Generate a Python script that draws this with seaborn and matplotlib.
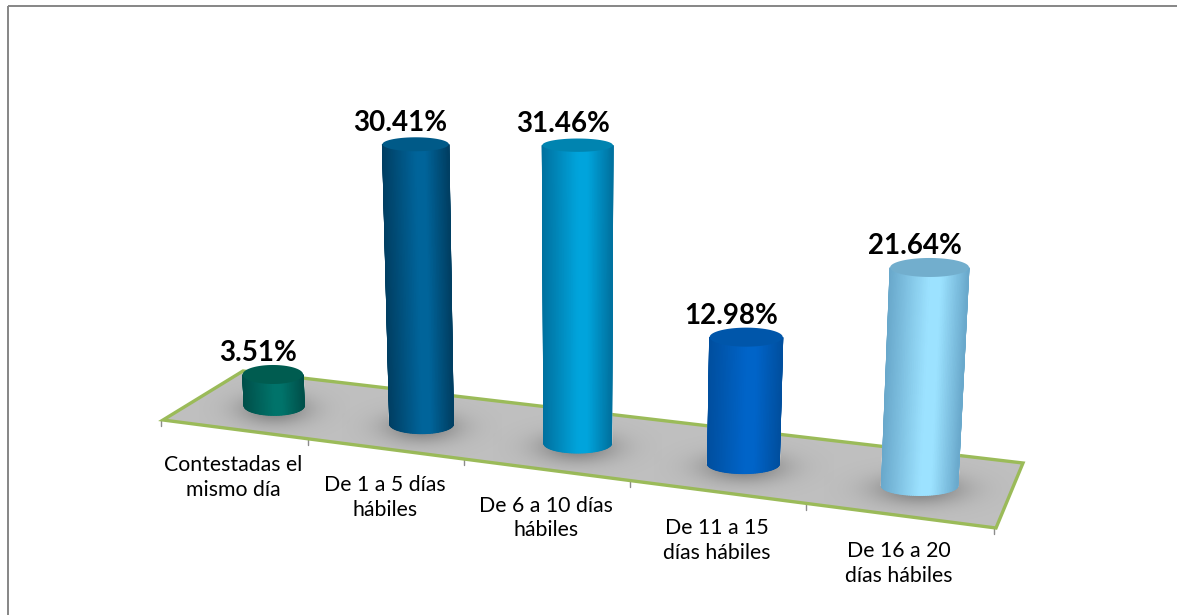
import numpy as np
import matplotlib
matplotlib.use("Agg")
import matplotlib.pyplot as plt
import matplotlib.transforms as mtransforms
from matplotlib.colors import LinearSegmentedColormap
from matplotlib.patches import Polygon, Rectangle
import seaborn as sns

categories = ["Contestadas el\nmismo día", "De 1 a 5 días\nhábiles", "De 6 a 10 días\nhábiles",
              "De 11 a 15\ndías hábiles", "De 16 a 20\ndías hábiles"]
values = [3.51, 30.41, 31.46, 12.98, 21.64]

# side, bright, top of each cylinder
edge_colors = ["#00504a", "#003f63", "#0072a0", "#004f9f", "#6aa9cc"]
mid_colors = ["#00736a", "#00649a", "#00a4dc", "#0064c8", "#9ce2ff"]
top_colors = ["#005c50", "#005a88", "#0084b0", "#0056aa", "#72aecd"]

W, H = 1177, 615
BAR_DEPTH = 0.45

# floor corners in picture pixels, (category edge, depth) -> pixel
floor_px = np.array([[163, 420], [996, 528], [1023, 463], [243, 371]], dtype=float)
floor_uv = np.array([[0, 0], [5, 0], [5, 1], [0, 1]], dtype=float)


def fit_homography(src, dst):
    rows, rhs = [], []
    for (u, v), (x, y) in zip(src, dst):
        rows.append([u, v, 1, 0, 0, 0, -u * x, -v * x])
        rows.append([0, 0, 0, u, v, 1, -u * y, -v * y])
        rhs += [x, y]
    return np.append(np.linalg.solve(np.array(rows), np.array(rhs)), 1).reshape(3, 3)


HOMO = fit_homography(floor_uv, floor_px)


def floor_point(u, v):
    p = HOMO @ np.array([u, v, np.ones_like(u)])
    return p[0] / p[2], p[1] / p[2]


class ChartProjection(mtransforms.Transform):
    # (category position, percent) -> picture pixels, fake 3D perspective
    input_dims = 2
    output_dims = 2

    def transform_non_affine(self, values):
        pts = np.asarray(values, dtype=float)
        cat = np.round(pts[:, 0])
        cx, cy = floor_point(cat + 0.5, np.full_like(cat, BAR_DEPTH))
        px, _ = floor_point(pts[:, 0] + 0.5, np.full_like(cat, BAR_DEPTH))
        scale = 8.95 + (cx - 277) / 641 * 1.15
        rise = pts[:, 1] * scale
        x = cx + 3 + (px - cx) * (1 + 0.00015 * rise) + (cx - 577) * 0.000134 * rise
        return np.column_stack([x, cy - rise])


sns.set_theme(style="white")
plt.rcParams["font.family"] = ["Lato", "DejaVu Sans"]

fig = plt.figure(figsize=(W / 100, H / 100), dpi=100)
ax = fig.add_axes([0, 0, 1, 1])

sns.barplot(x=np.arange(len(categories)), y=values, hue=categories, palette=mid_colors,
            width=0.42, native_scale=True, legend=False, ax=ax)
bars = sorted(ax.patches, key=lambda b: b.get_x())

project = ChartProjection()
to_pixels = project + ax.transData

# floor
u_ticks = np.arange(6.0)
tick_x, tick_y = floor_point(u_ticks, np.zeros(6))
floor = Polygon(floor_px, closed=True, facecolor="#bfbfbf", edgecolor="#9bbb59",
                linewidth=2.4, joinstyle="miter", zorder=1)
ax.add_patch(floor)
for x, y in zip(tick_x, tick_y):
    ax.plot([x - 2, x - 2], [y - 0.3, y + 6], color="#8c8c8c", lw=1, zorder=0.9)

# soft shadows round the feet of the cylinders
grid_x, grid_y = np.meshgrid(np.linspace(-1, 1, 120), np.linspace(-1, 1, 80))
shadow = np.zeros((80, 120, 4))
shadow[..., :3] = 0.4
shadow[..., 3] = 0.7 * np.exp(-4.5 * (grid_x ** 2 + grid_y ** 2))

for i, (bar, cat_label) in enumerate(zip(bars, categories)):
    x0, w, h = bar.get_x(), bar.get_width(), bar.get_height()
    foot_l, foot_r, top_l, top_r = project.transform(
        np.array([[x0, 0], [x0 + w, 0], [x0, h], [x0 + w, h]]))

    foot_cx, foot_cy = (foot_l + foot_r) / 2
    foot_a = (foot_r[0] - foot_l[0]) / 2
    top_cx, top_cy = (top_l + top_r) / 2
    top_a = (top_r[0] - top_l[0]) / 2
    foot_b = 9.5
    top_b = np.interp(h, [0, 22, 32], [9.5, 9.5, 6.5])

    img = ax.imshow(shadow, extent=(foot_cx - foot_a * 2.5, foot_cx + foot_a * 2.5,
                                    foot_cy + 36, foot_cy - 30),
                    aspect="auto", zorder=1.5)
    img.set_clip_path(floor)

    bar.set_transform(to_pixels)
    bar.set_zorder(3)

    # cylinder wall, shaded across its width
    theta = np.linspace(np.pi, 0, 60)
    xs = np.vstack([top_cx + top_a * np.cos(theta), foot_cx + foot_a * np.cos(theta)])
    ys = np.vstack([top_cy + top_b * np.sin(theta), foot_cy + foot_b * np.sin(theta)])
    shade = np.vstack([(np.cos(theta) + 1) / 2] * 2)
    cmap = LinearSegmentedColormap.from_list(
        f"wall{i}", [(0, edge_colors[i]), (0.5, mid_colors[i]), (0.65, mid_colors[i]), (1, edge_colors[i])])
    ax.pcolormesh(xs, ys, shade, shading="gouraud", cmap=cmap, zorder=3.1)

    # cylinder lid
    lid_t = np.linspace(0, 2 * np.pi, 80)
    ax.fill(top_cx + top_a * np.cos(lid_t), top_cy + top_b * np.sin(lid_t),
            color=top_colors[i], lw=0, zorder=3.2)

    ax.text(top_cx - 15, top_cy - 21.5, f"{values[i]:.2f}%", ha="center", va="center",
            fontsize=20, fontweight="bold", color="black", zorder=5)
    ax.text((tick_x[i] + tick_x[i + 1]) / 2 - 3, (tick_y[i] + tick_y[i + 1]) / 2 + 48, cat_label,
            ha="center", va="center", fontsize=15.3, color="black", linespacing=1.3, zorder=5)

# frame of the chart area
ax.add_patch(Rectangle((8, 6), W + 20, H + 20, fill=False, edgecolor="#868686", lw=1.4, zorder=6))

ax.set_xlim(0, W)
ax.set_ylim(H, 0)
ax.axis("off")

fig.savefig("out.png", dpi=100)
